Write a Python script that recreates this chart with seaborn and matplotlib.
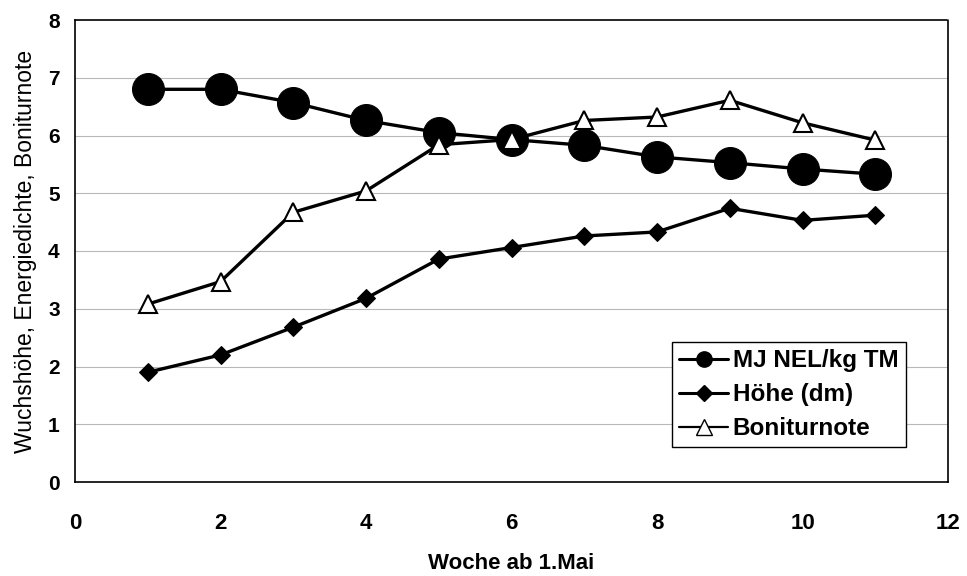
import matplotlib
matplotlib.use("Agg")
import matplotlib.pyplot as plt
from matplotlib.lines import Line2D
import seaborn as sns
import pandas as pd

weeks = [1, 2, 3, 4, 5, 6, 7, 8, 9, 10, 11]
mj_nel = [6.8, 6.8, 6.57, 6.26, 6.05, 5.93, 5.83, 5.63, 5.53, 5.42, 5.33]
hoehe = [1.9, 2.2, 2.68, 3.18, 3.86, 4.06, 4.26, 4.33, 4.74, 4.53, 4.62]
bonitur = [3.08, 3.47, 4.67, 5.04, 5.84, 5.93, 6.26, 6.32, 6.61, 6.22, 5.92]
labels = ["MJ NEL/kg TM", "Höhe (dm)", "Boniturnote"]

sns.set_style("white")
plt.rcParams["font.family"] = ["Liberation Sans", "DejaVu Sans"]
plt.rcParams["text.color"] = "black"
plt.rcParams["axes.labelcolor"] = "black"
plt.rcParams["xtick.color"] = "black"
plt.rcParams["ytick.color"] = "black"

fig = plt.figure(figsize=(9.67, 5.76), dpi=100)
ax = fig.add_axes([75 / 967, 1 - 482 / 576, (948 - 75) / 967, (482 - 20) / 576])

for y in range(1, 8):
    ax.axhline(y, color="#b8b8b8", lw=0.8, zorder=0)

styles = [
    dict(marker="o", markersize=23, markerfacecolor="black", markeredgecolor="black"),
    dict(marker="D", markersize=9.5, markerfacecolor="black", markeredgecolor="black"),
    dict(marker="^", markersize=12.5, markerfacecolor="white", markeredgecolor="black", markeredgewidth=1.5),
]
series = [mj_nel, hoehe, bonitur]
for vals, st, lab in zip(series, styles, labels):
    df = pd.DataFrame({"Woche": weeks, "Wert": vals})
    sns.lineplot(data=df, x="Woche", y="Wert", ax=ax, color="black", lw=2.4,
                 legend=False, zorder=3, **st)

ax.set_xlim(0, 12)
ax.set_ylim(0, 8)
ax.set_xticks(range(0, 13, 2))
ax.set_yticks(range(0, 9))
ax.tick_params(axis="both", direction="out", length=5, width=0.8, colors="black",
               pad=6)
ax.tick_params(axis="y", labelsize=15)
ax.tick_params(axis="x", labelsize=16, pad=17)
for t in ax.get_xticklabels() + ax.get_yticklabels():
    t.set_fontweight("bold")

ax.set_xlabel("Woche ab 1.Mai", fontsize=16, fontweight="bold", labelpad=14, color="black")
ax.set_ylabel("Wuchshöhe, Energiedichte, Boniturnote", fontsize=16.5, labelpad=8, color="black")

for side in ["left", "bottom"]:
    ax.spines[side].set_color("black")
    ax.spines[side].set_linewidth(1.2)
for side in ["top", "right"]:
    ax.spines[side].set_color("black")
    ax.spines[side].set_linewidth(1.2)
    ax.spines[side].set_linestyle((0, (1, 1)))

handles = [
    Line2D([], [], color="black", lw=2.2, marker="o", markersize=11),
    Line2D([], [], color="black", lw=2.2, marker="D", markersize=8),
    Line2D([], [], color="black", lw=1.6, marker="^", markersize=11,
           markerfacecolor="white", markeredgecolor="black"),
]
leg = ax.legend(handles, labels, loc="lower right", bbox_to_anchor=(0.9515, 0.075),
                fontsize=17.5, frameon=True, fancybox=False, framealpha=1,
                edgecolor="black", handlelength=2.0, handletextpad=0.2,
                borderpad=0.3, labelspacing=0.45, borderaxespad=0)
leg.get_frame().set_linewidth(1.0)
for t in leg.get_texts():
    t.set_fontweight("bold")
    t.set_color("black")

fig.savefig("out.png", dpi=100)
